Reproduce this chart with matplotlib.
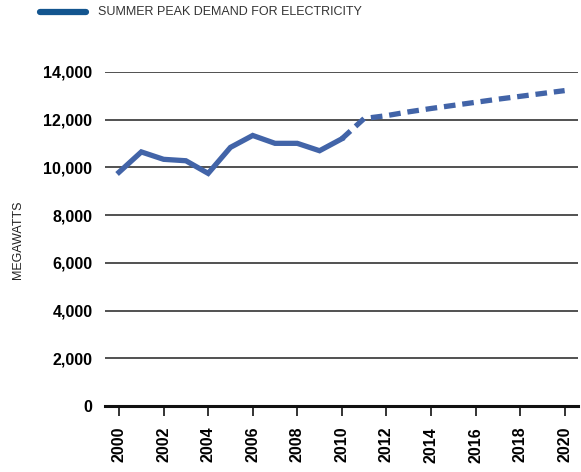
import matplotlib
matplotlib.use("Agg")
import matplotlib.pyplot as plt
from matplotlib.lines import Line2D

# datos (MW)
anios_hist = [2000, 2001, 2002, 2003, 2004, 2005, 2006, 2007, 2008, 2009, 2010]
demanda_hist = [9800, 10650, 10340, 10280, 9750, 10840, 11340, 11010, 11010, 10700, 11200]

anios_proy = [2010, 2011, 2012, 2013, 2014, 2015, 2016, 2017, 2018, 2019, 2020]
demanda_proy = [11200, 12050, 12170, 12330, 12470, 12600, 12730, 12860, 12980, 13100, 13220]

yticks = [0, 2000, 4000, 6000, 8000, 10000, 12000, 14000]
xticks = list(range(2000, 2021, 2))

titulo = "SUMMER PEAK DEMAND FOR ELECTRICITY"
ylabel = "MEGAWATTS"

color_linea = "#4264a8"
color_leyenda = "#13558f"
fuente = ["Liberation Sans", "DejaVu Sans"]

fig = plt.figure(figsize=(5.81, 4.72), dpi=100)
ax = fig.add_axes([105 / 581, 1 - 406 / 472, 473 / 581, 334 / 472])

for y in yticks[1:]:
    ax.axhline(y, color="#222222", lw=1.1, zorder=1)

ax.plot(anios_hist, demanda_hist, color=color_linea, lw=3.8,
        solid_joinstyle="miter", zorder=3)
ax.plot(anios_proy, demanda_proy, color=color_linea, lw=3.8,
        dashes=(2.2, 1.3), zorder=3)

ax.set_xlim(1999.37, 2020.6)
ax.set_ylim(0, 14000)

for s in ["top", "right", "left"]:
    ax.spines[s].set_visible(False)
ax.spines["bottom"].set_linewidth(2.2)
ax.spines["bottom"].set_color("#111111")

ax.set_xticks(xticks)
ax.set_xticklabels([str(x) for x in xticks], rotation=90, fontsize=11.5,
                   fontweight="bold", family=fuente)
ax.tick_params(axis="x", length=7, width=1.2, color="#111111", pad=8)

ax.set_yticks(yticks)
ax.set_yticklabels(["{:,}".format(v) for v in yticks], fontsize=11.5,
                   fontweight="bold", family=fuente)
ax.tick_params(axis="y", length=0, pad=9)

fig.text(18 / 581, 1 - 240 / 472, ylabel, rotation=90, ha="center", va="center",
         fontsize=9, color="#222222", family=fuente)

# leyenda a mano arriba
fig.add_artist(Line2D([40 / 581, 86 / 581], [1 - 12 / 472, 1 - 12 / 472],
                      color=color_leyenda, lw=4.5, solid_capstyle="round",
                      transform=fig.transFigure))
fig.text(98 / 581, 1 - 12 / 472, titulo, ha="left", va="center", fontsize=9,
         color="#333333", family=fuente)

fig.savefig("out.png", dpi=100)
